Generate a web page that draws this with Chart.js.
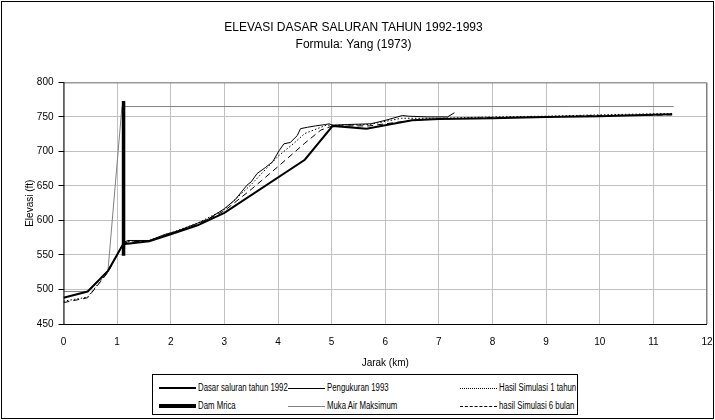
<!DOCTYPE html>
<html>
<head>
<meta charset="utf-8">
<script src="https://cdn.jsdelivr.net/npm/chart.js@4/dist/chart.umd.min.js"></script>
<style>
  html, body { margin: 0; padding: 0; background: #fff; }
  #wrap { position: relative; width: 715px; height: 420px; }
  #c { position: absolute; left: 0; top: 0; }
  #legend {
    position: absolute; left: 152px; top: 374px; width: 426px; height: 41px;
    border: 1px solid #000; box-sizing: border-box; background: #fff;
    font-family: "Liberation Sans", Arial, sans-serif; font-size: 10px; color: #000;
  }
  .item { position: absolute; height: 12px; line-height: 12px; white-space: nowrap; }
  .sample { position: absolute; top: 6px; width: 37px; height: 0; }
  .lbl { position: absolute; left: 39px; top: 0; display: inline-block; transform: scaleX(0.78); transform-origin: 0 50%; }
</style>
</head>
<body>
<div id="wrap">
  <canvas id="c" width="715" height="420"></canvas>
  <div id="legend"></div>
</div>
<script>
// ---- data ----
const titleLines = ["ELEVASI DASAR SALURAN TAHUN 1992-1993", "Formula: Yang (1973)"];
const xTicks = [0, 1, 2, 3, 4, 5, 6, 7, 8, 9, 10, 11, 12];
const yTicks = [450, 500, 550, 600, 650, 700, 750, 800];

const seriesNames = ["Dasar saluran tahun 1992", "Pengukuran 1993", "Hasil Simulasi 1 tahun",
                     "Dam Mrica", "Muka Air Maksimum", "hasil Simulasi 6 bulan"];

const dist1992 = [0, 0.45, 0.83, 1.1, 1.15, 1.6, 2.0, 2.5, 3.0, 4.5, 5.02, 5.65, 6.5, 7.0, 8.0, 9.0, 10.0, 11.35];
const elev1992 = [488, 497, 527, 564, 566, 570, 580, 593, 611, 688, 737, 733, 745, 747, 748, 750, 751, 754];

const dist1993 = [1.12, 1.2, 1.6, 1.9, 2.1, 2.3, 2.5, 2.7, 2.9, 3.0, 3.2, 3.42, 3.5, 3.61, 3.77, 3.9, 4.02, 4.11, 4.23, 4.36, 4.42, 4.55, 4.7, 4.89, 4.95, 5.02, 5.3, 5.73, 6.0, 6.32, 6.44, 6.8, 7.16, 7.29];
const elev1993 = [568, 571, 571, 580, 584, 590, 596, 602, 612, 617, 630, 651, 656, 668, 677, 685, 701, 711, 713, 723, 733, 735, 737, 739, 740, 738, 739, 740, 745, 752, 751, 750, 750, 756];

const distSim1 = [0, 0.45, 0.83, 1.1, 1.2, 1.6, 2.0, 2.5, 3.0, 3.5, 4.0, 4.3, 4.5, 4.9, 5.02, 5.7, 6.3, 7.0, 8.0, 9.0, 10.0, 11.35];
const elevSim1 = [483, 489, 526, 565, 570, 571, 582, 596, 616, 652, 693, 712, 726, 738, 738, 739, 748, 748, 750, 751, 753, 755];

const distDam = [1.12, 1.12];
const elevDam = [549, 773];

const distMuka = [0, 0.45, 0.83, 1.09, 11.38];
const elevMuka = [497, 497, 528, 765, 765];

const distSim6 = [0, 0.45, 0.83, 1.1, 1.2, 1.6, 2.0, 2.5, 3.0, 3.5, 4.0, 4.5, 4.8, 5.02, 5.7, 6.5, 7.0, 8.0, 9.0, 10.0, 11.35];
const elevSim6 = [481, 488, 525, 565, 569, 570, 581, 594, 614, 645, 678, 712, 731, 737, 737, 745, 747, 749, 750, 752, 753];

// ---- build ----
function pts(xs, ys) { return xs.map((x, i) => ({ x: x, y: ys[i] })); }

const styles = [
  { color: "#000", width: 2, dash: [] },
  { color: "#000", width: 1, dash: [] },
  { color: "#000", width: 1, dash: [1.5, 2] },
  { color: "#000", width: 3.5, dash: [] },
  { color: "#808080", width: 1, dash: [] },
  { color: "#000", width: 1, dash: [6, 4] }
];
const seriesData = [pts(dist1992, elev1992), pts(dist1993, elev1993), pts(distSim1, elevSim1),
                    pts(distDam, elevDam), pts(distMuka, elevMuka), pts(distSim6, elevSim6)];

const datasets = seriesNames.map((n, i) => ({
  label: n,
  data: seriesData[i],
  showLine: true,
  borderColor: styles[i].color,
  borderWidth: styles[i].width,
  borderDash: styles[i].dash,
  pointRadius: 0,
  pointHoverRadius: 0,
  fill: false,
  tension: 0
}));

const FONT = "'Liberation Sans', Arial, sans-serif";

const framePlugin = {
  id: "frame",
  beforeDraw(chart) {
    const ctx = chart.ctx;
    ctx.save();
    ctx.fillStyle = "#fff";
    ctx.fillRect(0, 0, chart.width, chart.height);
    ctx.strokeStyle = "#000";
    ctx.lineWidth = 1;
    ctx.strokeRect(1.5, 1.5, chart.width - 3, chart.height - 3);
    ctx.restore();
  },
  afterDatasetsDraw(chart) {
    const a = chart.chartArea, ctx = chart.ctx;
    ctx.save();
    ctx.strokeStyle = "#808080";
    ctx.lineWidth = 1;
    ctx.beginPath();
    ctx.moveTo(a.left, a.top + 0.5);
    ctx.lineTo(a.right - 0.5, a.top + 0.5);
    ctx.lineTo(a.right - 0.5, a.bottom);
    ctx.stroke();
    ctx.strokeStyle = "#000";
    ctx.beginPath();
    ctx.moveTo(a.left + 0.5, a.top);
    ctx.lineTo(a.left + 0.5, a.bottom + 0.5);
    ctx.lineTo(a.right, a.bottom + 0.5);
    ctx.stroke();
    ctx.restore();
  }
};

new Chart(document.getElementById("c"), {
  type: "scatter",
  data: { datasets: datasets },
  plugins: [framePlugin],
  options: {
    responsive: false,
    animation: false,
    events: [],
    layout: { padding: { left: 0, right: 8, top: 0, bottom: 47 } },
    plugins: {
      legend: { display: false },
      tooltip: { enabled: false },
      title: {
        display: true,
        text: titleLines,
        color: "#000",
        font: { family: FONT, size: 12, weight: "normal", lineHeight: 1.35 },
        padding: { top: 20, bottom: 30 }
      }
    },
    scales: {
      x: {
        type: "linear", min: 0, max: 12,
        afterBuildTicks: (s) => { s.ticks = xTicks.map(v => ({ value: v })); },
        afterFit: (s) => { s.height = 49; s.paddingRight = 0; s.paddingLeft = 0; },
        ticks: { color: "#000", font: { family: FONT, size: 10 }, padding: 12, maxRotation: 0 },
        grid: { color: "#c0c0c0", lineWidth: 1, tickLength: 0, drawTicks: false },
        border: { display: false },
        title: { display: true, text: "Jarak (km)", color: "#000", font: { family: FONT, size: 10 }, padding: { top: 4, bottom: 4 } }
      },
      y: {
        type: "linear", min: 450, max: 800,
        afterBuildTicks: (s) => { s.ticks = yTicks.map(v => ({ value: v })); },
        afterFit: (s) => { s.width = 63.5; s.paddingTop = 0; s.paddingBottom = 0; },
        ticks: { color: "#000", font: { family: FONT, size: 10 }, padding: 5 },
        grid: { color: (c) => (c.tick && c.tick.value === 450) ? "#000" : "#c0c0c0", tickColor: "#000", tickLength: 5, lineWidth: 1 },
        border: { display: false },
        title: { display: true, text: "Elevasi (ft)", color: "#000", font: { family: FONT, size: 10 }, padding: { top: 24, bottom: 4 } }
      }
    }
  }
});

// ---- HTML legend ----
const legendPos = [
  { left: 6, top: 7 }, { left: 135, top: 7 }, { left: 307, top: 7 },
  { left: 6, top: 25 }, { left: 135, top: 25 }, { left: 307, top: 25 }
];
const legend = document.getElementById("legend");
seriesNames.forEach((n, i) => {
  const it = document.createElement("div");
  it.className = "item";
  it.style.left = legendPos[i].left + "px";
  it.style.top = legendPos[i].top + "px";
  const s = document.createElement("div");
  s.className = "sample";
  const st = styles[i];
  const bstyle = st.dash.length ? (st.dash[0] > 3 ? "dashed" : "dotted") : "solid";
  s.style.borderTop = Math.max(1, Math.round(st.width)) + "px " + bstyle + " " + st.color;
  s.style.marginTop = -Math.floor(Math.max(1, Math.round(st.width)) / 2) + "px";
  const l = document.createElement("span");
  l.className = "lbl";
  l.textContent = n;
  it.appendChild(s);
  it.appendChild(l);
  legend.appendChild(it);
});
</script>
</body>
</html>
